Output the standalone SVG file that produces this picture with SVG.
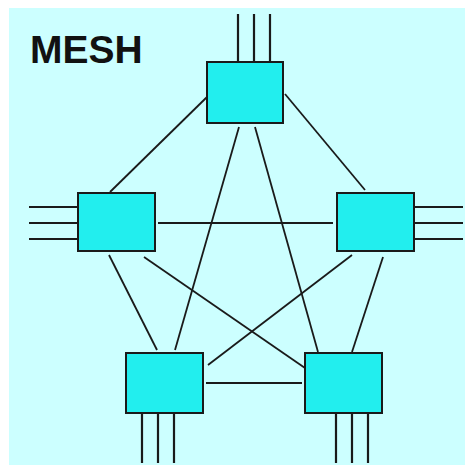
<svg xmlns="http://www.w3.org/2000/svg" width="465" height="465" viewBox="0 0 465 465">
<style>
.node rect{fill:#22eeee;stroke:#1a1a1a;stroke-width:2}
.link{stroke:#1a1a1a;stroke-width:1.8;fill:none}
.port{stroke:#1a1a1a;stroke-width:2.2;fill:none}
.title{font-family:"Liberation Sans",Arial,sans-serif;font-weight:bold;font-size:39px;fill:#111}
</style>
<rect x="0" y="0" width="465" height="465" fill="#ffffff"/>
<rect x="9" y="8" width="456" height="457" fill="#ccffff"/>
<text class="title" x="30" y="63">MESH</text>
<g id="connectors">
<line class="link" x1="207" y1="97" x2="110" y2="192"/>
<line class="link" x1="285" y1="94" x2="365" y2="190"/>
<line class="link" x1="239" y1="127" x2="175" y2="350"/>
<line class="link" x1="255" y1="127" x2="318" y2="352"/>
<line class="link" x1="158" y1="223" x2="333" y2="223"/>
<line class="link" x1="109" y1="255" x2="157" y2="350"/>
<line class="link" x1="144" y1="257" x2="305" y2="368"/>
<line class="link" x1="352" y1="255" x2="208" y2="365"/>
<line class="link" x1="383" y1="257" x2="352" y2="352"/>
<line class="link" x1="206" y1="383" x2="302" y2="383"/>
</g>
<g id="node-top" class="node">
<path class="port" d="M238 14V62M254 14V62M270 14V62"/>
<rect x="207" y="62" width="76" height="61"/>
</g>
<g id="node-left" class="node">
<path class="port" d="M29 207H78M29 223H78M29 239H78"/>
<rect x="78" y="193" width="77" height="58"/>
</g>
<g id="node-right" class="node">
<path class="port" d="M414 207H463M414 223H463M414 239H463"/>
<rect x="337" y="193" width="77" height="58"/>
</g>
<g id="node-bottom-left" class="node">
<path class="port" d="M142 413V463M158 413V463M174 413V463"/>
<rect x="126" y="353" width="77" height="60"/>
</g>
<g id="node-bottom-right" class="node">
<path class="port" d="M336 413V463M352 413V463M368 413V463"/>
<rect x="305" y="353" width="77" height="60"/>
</g>
</svg>
